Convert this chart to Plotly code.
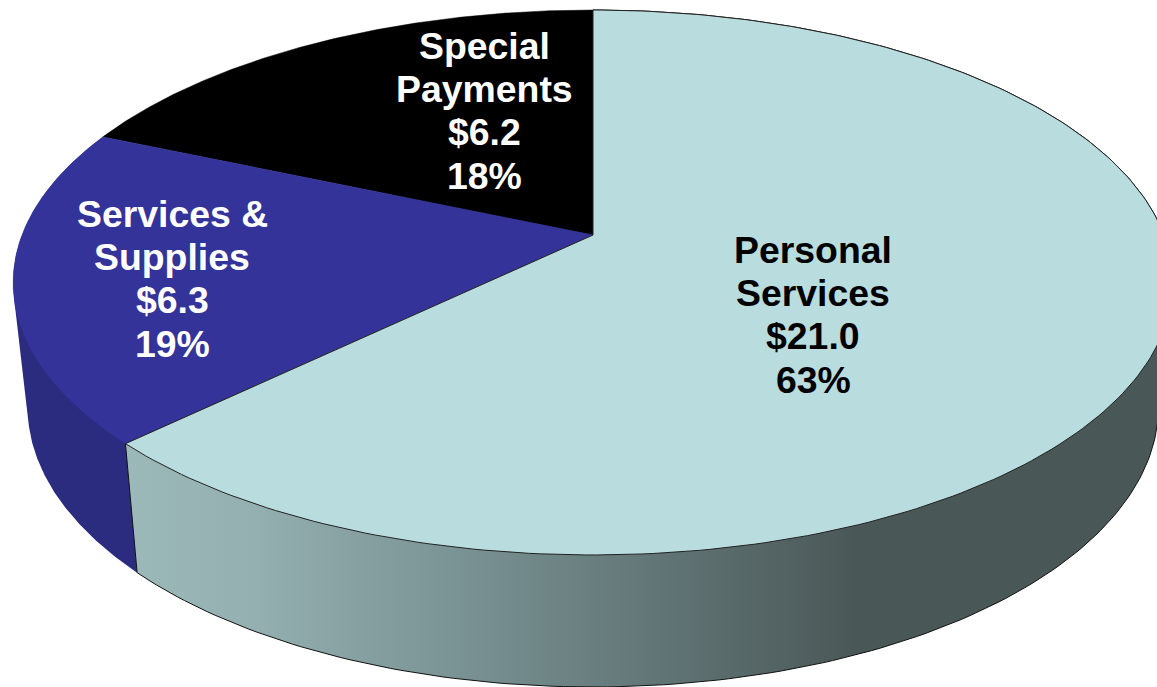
import numpy as np
import plotly.graph_objects as go

categories = ["Personal Services", "Services & Supplies", "Special Payments"]
values = [21.04, 6.27, 6.2]
percents = [63, 19, 18]
label_lines = [["Personal", "Services"], ["Services &", "Supplies"], ["Special", "Payments"]]
top_colors = ["#b9dcdf", "#333399", "#000000"]
text_colors = ["#000000", "#ffffff", "#ffffff"]

# projection of the tilted disc onto the page
CX, CY, A, B, K = 593.0, 235.0, 571.0, 264.2, 0.1743
DX, DY, DD = 0.975, 1.027, 117.0

def project(theta):
    sx, cy = np.sin(theta), np.cos(theta)
    d = 1 + K * cy
    return CX + A * sx / d, CY - B * cy / d

def lower(x, y):
    return CX + (x - CX) * DX, y * DY + DD

def hull(px, py):
    pts = sorted(set(zip(px.tolist(), py.tolist())))
    def half(seq):
        out = []
        for p in seq:
            while len(out) > 1 and ((out[-1][0] - out[-2][0]) * (p[1] - out[-2][1])
                                    - (out[-1][1] - out[-2][1]) * (p[0] - out[-2][0])) <= 0:
                out.pop()
            out.append(p)
        return out[:-1]
    h = half(pts) + half(pts[::-1])
    h.append(h[0])
    return [p[0] for p in h], [p[1] for p in h]

total = sum(values)
edges = np.concatenate([[0], np.cumsum(values)]) / total * 2 * np.pi

fig = go.Figure()
wall_styles = [
    dict(fillgradient=dict(type="horizontal", colorscale=[
        [0, "#9cb9ba"], [0.12, "#94b0b1"], [0.40, "#6f8687"], [0.70, "#4a5757"], [1, "#4a5757"]])),
    dict(fillcolor="#2b2b80"),
]

# side walls
for i in (1, 0):
    t = np.linspace(edges[i], edges[i + 1], 240)
    x, y = project(t)
    xb, yb = lower(x, y)
    px, py = hull(np.concatenate([x, xb]), np.concatenate([y, yb]))
    line = dict(color="#111111", width=1) if i == 0 else dict(color="rgba(0,0,0,0)", width=0)
    fig.add_trace(go.Scatter(x=px, y=py, mode="lines", fill="toself", line=line,
                             hoverinfo="skip", showlegend=False, **wall_styles[i]))

# top face
for i in (2, 1, 0):
    t = np.linspace(edges[i], edges[i + 1], 240)
    x, y = project(t)
    px = np.concatenate([[CX], x, [CX]])
    py = np.concatenate([[CY], y, [CY]])
    line = dict(color="#222222", width=1) if i == 0 else dict(color=top_colors[i], width=0.5)
    fig.add_trace(go.Scatter(x=px, y=py, mode="lines", fill="toself", fillcolor=top_colors[i],
                             line=line, name=categories[i], hoverinfo="skip", showlegend=False))

# labels, one annotation per line for the tight leading
anchors = [(813, 250), (172, 214), (484, 46)]
LEAD = 43.2
for i, (ax, ay) in enumerate(anchors):
    lines = label_lines[i] + [f"${values[i]:.1f}", f"{percents[i]}%"]
    for j, s in enumerate(lines):
        fig.add_annotation(x=ax, y=ay + j * LEAD, text=f"<b>{s}</b>", showarrow=False,
                           xanchor="center", yanchor="middle",
                           font=dict(family="Liberation Sans", size=37.4, color=text_colors[i]))

fig.update_layout(
    width=1157, height=687, autosize=False,
    margin=dict(l=0, r=0, t=0, b=0),
    paper_bgcolor="white", plot_bgcolor="white",
    xaxis=dict(range=[0, 1157], visible=False, fixedrange=True),
    yaxis=dict(range=[687, 0], visible=False, fixedrange=True),
)
fig.write_html("out.html", config=dict(displayModeBar=False),
               post_script="document.body.style.margin='0';document.body.style.overflow='hidden';")
